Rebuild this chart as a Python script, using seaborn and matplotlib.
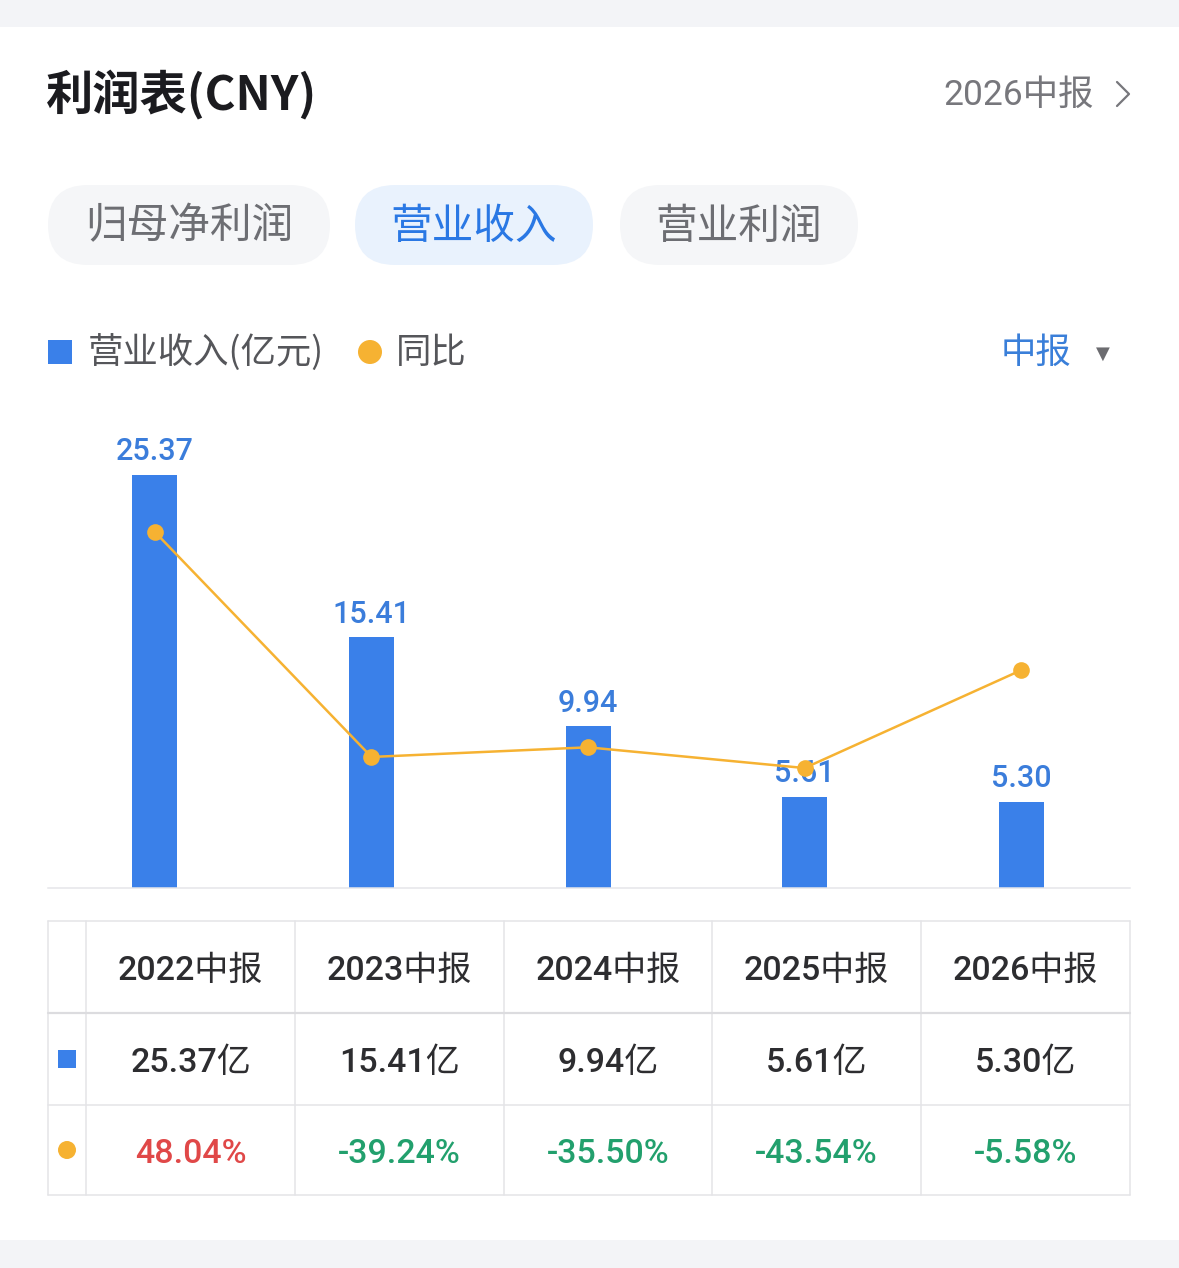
import numpy as np
import pandas as pd
import seaborn as sns
import matplotlib.pyplot as plt
from matplotlib.patches import FancyBboxPatch, Rectangle, Circle

# data
periods = ['2022中报', '2023中报', '2024中报', '2025中报', '2026中报']
revenue = [25.37, 15.41, 9.94, 5.61, 5.30]   # 营业收入, 亿元
yoy = [48.04, -39.24, -35.50, -43.54, -5.58]  # 同比, %
tabs = ['归母净利润', '营业收入', '营业利润']
active_tab = 1

W, H = 1179, 1268
sns.set_theme(style='white')
plt.rcParams['font.family'] = ['Roboto', 'Noto Sans CJK SC', 'DejaVu Sans']
CJK = ['Noto Sans CJK SC', 'DejaVu Sans']
NUM = ['Roboto', 'Noto Sans CJK SC', 'DejaVu Sans']

BLUE = '#3a80e9'
ORANGE = '#f6b232'
GRID = '#e4e4e7'

fig = plt.figure(figsize=(W / 100, H / 100), dpi=100)
fig.patch.set_facecolor('white')

# pixel canvas for the card decorations
cv = fig.add_axes([0, 0, 1, 1])
cv.set_xlim(0, W)
cv.set_ylim(H, 0)
cv.axis('off')

cv.add_patch(Rectangle((0, 0), W, 27, color='#f3f4f7', lw=0))
cv.add_patch(Rectangle((0, 1240), W, 28, color='#f3f4f7', lw=0))

# header
cv.text(46, 95, '利润表(CNY)', fontsize=34, fontweight='bold', color='#1b1b1f',
        va='center', family=CJK)
cv.text(1094, 95, '2026中报', fontsize=25.5, color='#77777c', va='center', ha='right', family=NUM)
cv.plot([1117, 1129, 1117], [82, 94, 106], color='#77777c', lw=1.6, solid_capstyle='round')

# tabs
tab_pos = [(48, 330), (355, 593), (620, 858)]
for i, (name, (x0, x1)) in enumerate(zip(tabs, tab_pos)):
    on = i == active_tab
    cv.add_patch(FancyBboxPatch((x0, 185), x1 - x0, 80,
                                boxstyle='round,pad=0,rounding_size=40',
                                fc='#e9f2fd' if on else '#f5f6f8', ec='none'))
    cv.text((x0 + x1) / 2, 227, name, fontsize=30, ha='center', va='center',
            color='#2a78e4' if on else '#6d6e73',
            fontweight='medium' if on else 'normal', family=CJK)

# legend row
cv.add_patch(Rectangle((48, 340), 24, 24, color=BLUE, lw=0))
cv.text(88, 353, '营业收入(亿元)', fontsize=25.5, color='#55565a', va='center', family=CJK)
cv.add_patch(Circle((370, 352), 12, color=ORANGE, lw=0))
cv.text(396, 353, '同比', fontsize=25.5, color='#55565a', va='center', family=CJK)
cv.text(1071, 353, '中报', fontsize=25.5, color='#3a7fd9', va='center', ha='right', family=CJK)
cv.text(1103, 354, '▼', fontsize=13, color='#6c6c70', va='center', ha='center',
        family=['DejaVu Sans'])

# chart
df = pd.DataFrame({'period': periods, 'revenue': revenue, 'yoy': yoy})
ax = fig.add_axes([48 / W, 1 - 888 / H, 1082 / W, 488 / H])
ax.patch.set_alpha(0)
sns.barplot(data=df, x='period', y='revenue', color=BLUE, saturation=1,
            width=0.208, linewidth=0, ax=ax)
ax.set_xlim(-0.494, 4.503)
ax.set_ylim(0, 29.98)
for i, v in enumerate(revenue):
    ax.annotate(f'{v:.2f}', (i, v), xytext=(0, 10.5), textcoords='offset points',
                ha='center', va='baseline', fontsize=22, fontweight='medium',
                color='#3b7ddb', family=NUM)
ax.set_xticks([])
ax.set_yticks([])
ax.set_xlabel('')
ax.set_ylabel('')
for s in ['top', 'left', 'right']:
    ax.spines[s].set_visible(False)
ax.spines['bottom'].set_color('#e6e6e9')
ax.spines['bottom'].set_linewidth(1.1)

ax2 = ax.twinx()
sns.lineplot(x=np.arange(len(yoy)), y=yoy, ax=ax2, color=ORANGE, linewidth=1.8,
             marker='o', markersize=12, markeredgewidth=0)
ax2.set_ylim(-90.1, 99.3)
ax2.axis('off')

# table under the chart
xs = [48, 86, 295, 504, 712, 921, 1130]
ys = [921, 1013, 1105, 1195]
for x in xs:
    cv.plot([x, x], [ys[0], ys[-1]], color=GRID, lw=1.1)
for j, y in enumerate(ys):
    cv.plot([xs[0], xs[-1]], [y, y], color='#dcdcdf' if j == 1 else GRID,
            lw=1.6 if j == 1 else 1.1)

row_y = [(ys[k] + ys[k + 1]) / 2 for k in range(3)]
cv.add_patch(Rectangle((58, row_y[1] - 9), 18, 18, color=BLUE, lw=0))
cv.add_patch(Circle((67, row_y[2]), 9, color=ORANGE, lw=0))
for i in range(len(periods)):
    cx = (xs[i + 1] + xs[i + 2]) / 2
    cv.text(cx, row_y[0] + 4, periods[i], fontsize=24.5, ha='center', va='center',
            color='#2d2d30', fontweight='medium', family=NUM)
    cv.text(cx, row_y[1] + 4, f'{revenue[i]:.2f}亿', fontsize=24.5, ha='center', va='center',
            color='#2d2d30', fontweight='medium', family=NUM)
    cv.text(cx, row_y[2] + 4, f'{yoy[i]:.2f}%', fontsize=24.5, ha='center', va='center',
            color='#e04848' if yoy[i] > 0 else '#22a06d', fontweight='medium', family=NUM)

fig.savefig('out.png', dpi=100)
